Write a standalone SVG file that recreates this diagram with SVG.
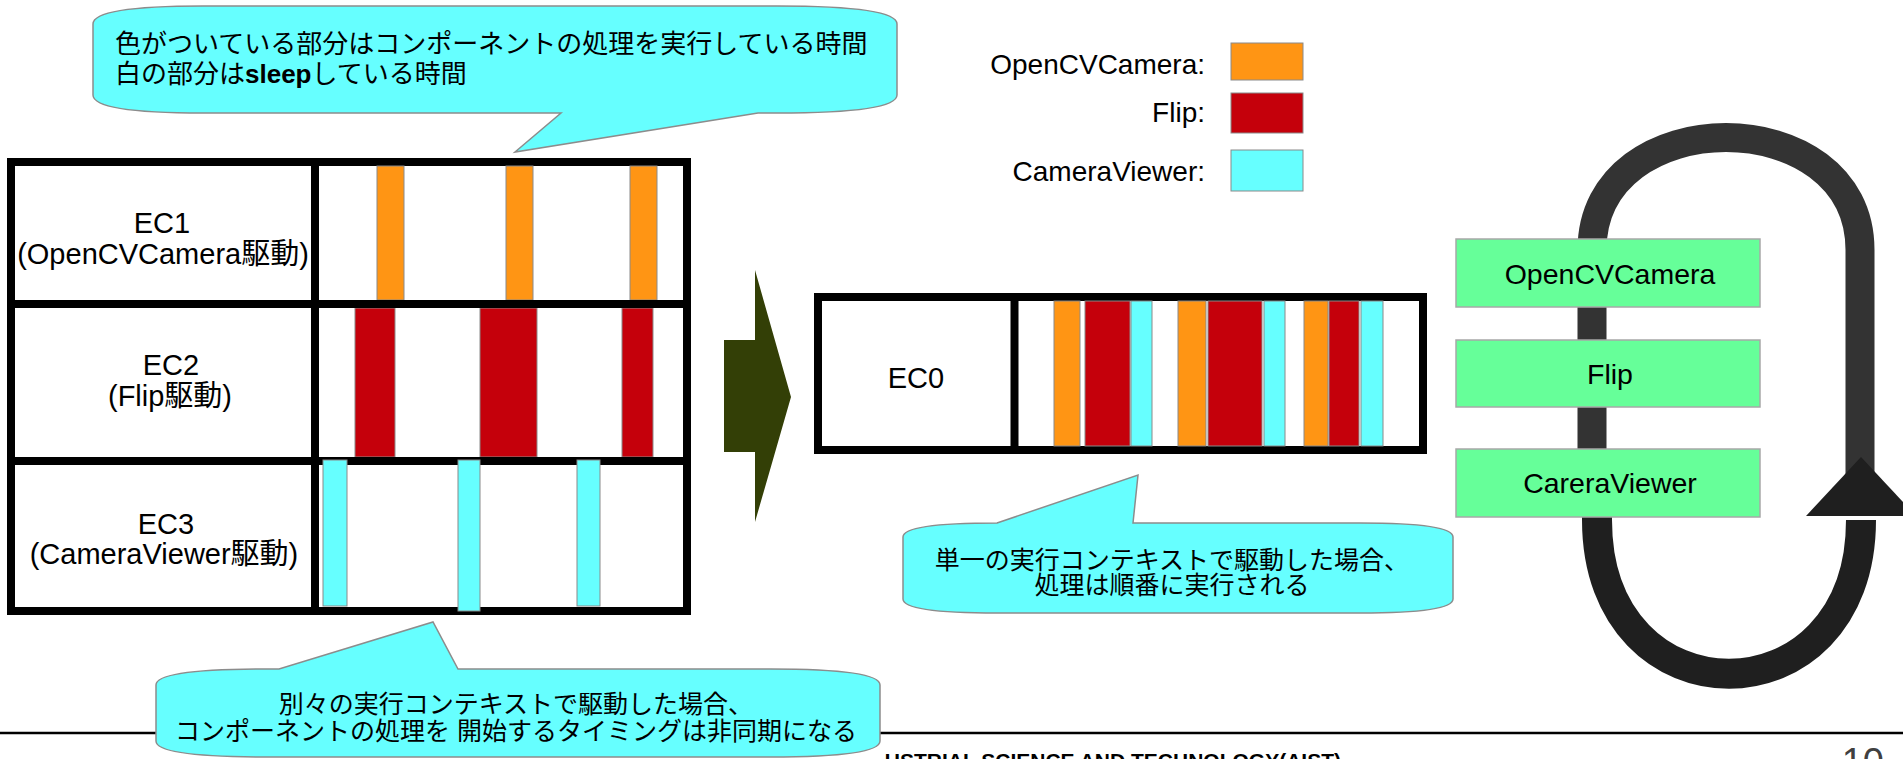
<svg xmlns="http://www.w3.org/2000/svg" width="1903" height="759" viewBox="0 0 1903 759">
<style>
.t{font-family:"Liberation Sans","Noto Sans CJK JP",sans-serif;fill:#000}
.jp{font-size:25px}
.lbl{font-size:29px;text-anchor:middle}
.gl{font-size:28.5px;text-anchor:middle}
.call{fill:#66ffff;stroke:#8c8c8c;stroke-width:1.5}
.frame{fill:#fff;stroke:#000;stroke-width:8}
.dv{stroke:#000;stroke-width:8}
.o{fill:#ff9514;stroke:#8a8a8a;stroke-width:1}
.r{fill:#c5000b;stroke:#8a8a8a;stroke-width:1}
.c{fill:#66ffff;stroke:#8a8a8a;stroke-width:1}
.g{fill:#66ff99;stroke:#a8a8a8;stroke-width:1.5}
</style>
<rect width="1903" height="759" fill="#fff"/>

<!-- footer -->
<g id="footer">
<line x1="0" y1="733" x2="1903" y2="733" stroke="#000" stroke-width="2.5"/>
<text class="t" x="1341" y="768" font-size="21" font-weight="bold" text-anchor="end">USTRIAL SCIENCE AND TECHNOLOGY(AIST)</text>
<text x="1884" y="775" font-size="38" text-anchor="end" style="fill:#404040;font-family:'Liberation Sans',sans-serif">10</text>
</g>

<!-- top callout -->
<g id="callout-top">
<path class="call" d="M 203,6 H 777 Q 897,6 897,24 V 95 Q 897,113 777,113 H 758 L 515,152 L 561,113 H 203 Q 93,113 93,95 V 24 Q 93,6 203,6 Z"/>
<text class="t" x="115" y="53" font-size="26">色がついている部分はコンポーネントの処理を実行している時間</text>
<text class="t" x="115" y="83" font-size="26">白の部分は<tspan font-weight="bold">sleep</tspan>している時間</text>
</g>

<!-- EC1..EC3 table -->
<g id="ec-table">
<rect class="frame" x="11" y="162" width="676" height="449"/>
<g id="ec1-bars">
<rect class="o" x="377" y="166" width="27" height="134"/>
<rect class="o" x="506" y="166" width="27" height="134"/>
<rect class="o" x="630" y="166" width="27" height="134"/>
</g>
<g id="ec2-bars">
<rect class="r" x="355" y="308" width="40" height="149"/>
<rect class="r" x="480" y="308" width="57" height="149"/>
<rect class="r" x="622" y="308" width="31" height="149"/>
</g>
<line class="dv" x1="11" y1="304" x2="687" y2="304"/>
<line class="dv" x1="11" y1="461" x2="687" y2="461"/>
<line class="dv" x1="315" y1="162" x2="315" y2="611"/>
<g id="ec3-bars">
<rect class="c" x="323" y="460" width="24" height="146"/>
<rect class="c" x="458" y="460" width="22" height="151"/>
<rect class="c" x="577" y="460" width="23" height="146"/>
</g>
</g>
<g id="ec1-label">
<text class="t lbl" x="162" y="233">EC1</text>
<text class="t lbl" x="163" y="264">(OpenCVCamera駆動)</text>
</g>
<g id="ec2-label">
<text class="t lbl" x="171" y="375">EC2</text>
<text class="t lbl" x="170" y="406">(Flip駆動)</text>
</g>
<g id="ec3-label">
<text class="t lbl" x="166" y="534">EC3</text>
<text class="t lbl" x="164" y="564">(CameraViewer駆動)</text>
</g>

<!-- EC0 -->
<g id="ec0">
<rect class="frame" x="818" y="297" width="605" height="153"/>
<rect class="o" x="1054" y="301" width="26" height="145"/>
<rect class="r" x="1085" y="301" width="45" height="145"/>
<rect class="c" x="1131" y="301" width="21" height="145"/>
<rect class="o" x="1178" y="301" width="28" height="145"/>
<rect class="r" x="1208" y="301" width="54" height="145"/>
<rect class="c" x="1264" y="301" width="21" height="145"/>
<rect class="o" x="1304" y="301" width="24" height="145"/>
<rect class="r" x="1329" y="301" width="30" height="145"/>
<rect class="c" x="1361" y="301" width="22" height="145"/>
<line class="dv" x1="1014.5" y1="297" x2="1014.5" y2="450"/>
<text class="t lbl" x="916" y="388">EC0</text>
</g>

<!-- legend -->
<g id="legend">
<text class="t" x="1205" y="74" font-size="28" text-anchor="end">OpenCVCamera:</text>
<rect class="o" x="1231" y="43" width="72" height="37"/>
<text class="t" x="1205" y="122" font-size="28" text-anchor="end">Flip:</text>
<rect class="r" x="1231" y="93" width="72" height="40"/>
<text class="t" x="1205" y="181" font-size="28" text-anchor="end">CameraViewer:</text>
<rect class="c" x="1231" y="150" width="72" height="41"/>
</g>

<!-- connectors -->
<g id="connectors">
<polygon points="724,340 755,340 755,270 791,397 755,522 755,452 724,452" fill="#333f06"/>
<path d="M 1592,460 V 250 C 1592,100 1860,100 1860,250 V 475" fill="none" stroke="#333333" stroke-width="29"/>
<path d="M 1597,505 V 520 C 1597,725 1861,725 1861,520" fill="none" stroke="#1f1f1f" stroke-width="30"/>
<polygon points="1806,516 1861,457 1916,516" fill="#1f1f1f"/>
</g>

<!-- component boxes -->
<g id="comp-opencvcamera">
<rect class="g" x="1456" y="239" width="304" height="68"/>
<text class="t gl" x="1610" y="284">OpenCVCamera</text>
</g>
<g id="comp-flip">
<rect class="g" x="1456" y="340" width="304" height="67"/>
<text class="t gl" x="1610" y="384">Flip</text>
</g>
<g id="comp-careraviewer">
<rect class="g" x="1456" y="449" width="304" height="68"/>
<text class="t gl" x="1610" y="493">CareraViewer</text>
</g>

<!-- bottom right callout -->
<g id="callout-single">
<path class="call" d="M 997,523 L 1138,475 L 1133,523 H 1360 Q 1453,523 1453,537 V 599 Q 1453,613 1360,613 H 997 Q 903,613 903,599 V 537 Q 903,523 997,523 Z"/>
<text class="t jp" x="1172" y="569" text-anchor="middle">単一の実行コンテキストで駆動した場合、</text>
<text class="t jp" x="1172" y="594" text-anchor="middle">処理は順番に実行される</text>
</g>

<!-- bottom left callout -->
<g id="callout-separate">
<path class="call" d="M 268,669 H 279 L 433,622 L 458,669 H 770 Q 880,669 880,685 V 741 Q 880,757 770,757 H 268 Q 156,757 156,741 V 685 Q 156,669 268,669 Z"/>
<text class="t jp" x="516" y="713" text-anchor="middle">別々の実行コンテキストで駆動した場合、</text>
<text class="t jp" x="516" y="740" text-anchor="middle">コンポーネントの処理を 開始するタイミングは非同期になる</text>
</g>
</svg>
